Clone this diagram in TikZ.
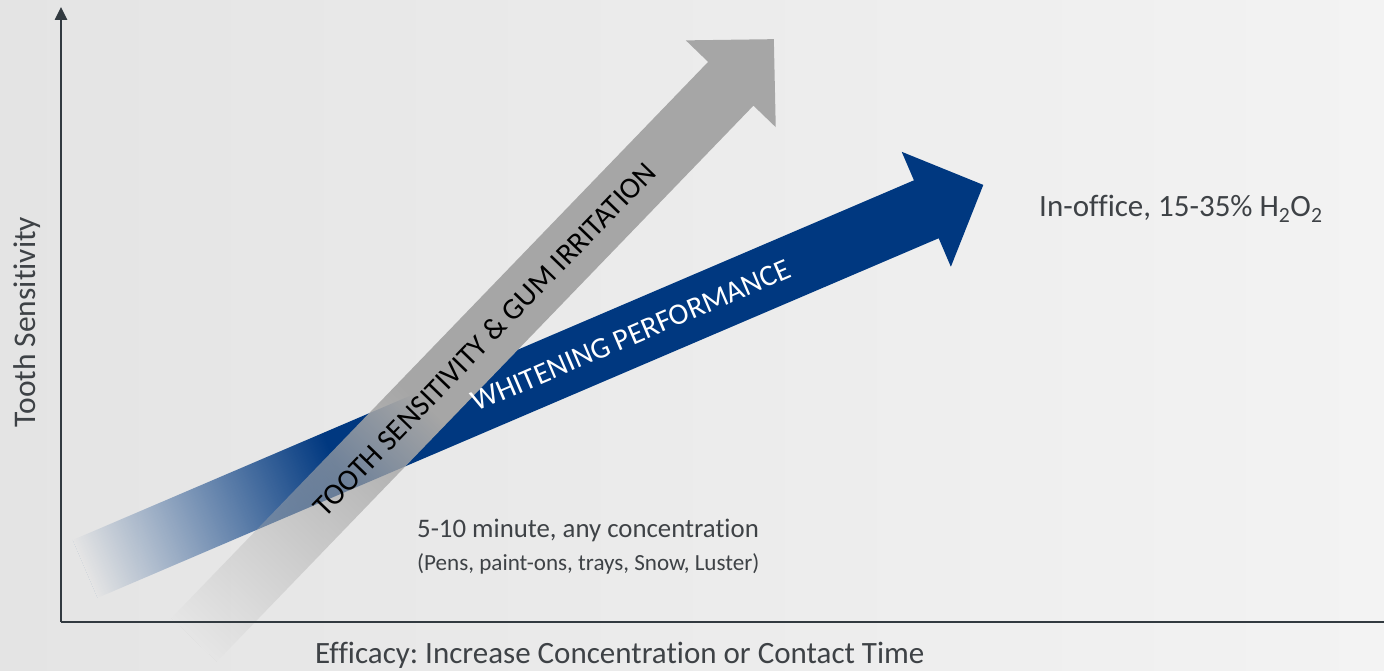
\documentclass[tikz,border=0pt]{standalone}
\usepackage{fontspec}
\setmainfont{Carlito}[Ligatures=NoCommon]
\usetikzlibrary{arrows.meta,fadings,positioning}

\definecolor{bgleft}{RGB}{228,228,228}
\definecolor{bgright}{RGB}{243,243,243}
\definecolor{axisgray}{RGB}{50,58,64}
\definecolor{textgray}{RGB}{62,66,70}
\definecolor{perfblue}{RGB}{0,56,128}
\definecolor{irrgray}{RGB}{166,166,166}

% fadings for the arrow tails, drawn in the arrows' own coordinates
\begin{tikzfadingfrompicture}[name=bluetailfade]
  \fill[transparent!100] (-1000pt,-100pt) rectangle (0pt,100pt);
  \shade[left color=transparent!100, right color=transparent!0] (0pt,-100pt) rectangle (273pt,100pt);
  \fill[transparent!0] (272pt,-100pt) rectangle (1000pt,100pt);
\end{tikzfadingfrompicture}
\begin{tikzfadingfrompicture}[name=graytailfade]
  \fill[transparent!100] (-1000pt,-100pt) rectangle (0pt,100pt);
  \shade[left color=transparent!100, right color=transparent!0] (0pt,-100pt) rectangle (330pt,100pt);
  \fill[transparent!0] (329pt,-100pt) rectangle (1000pt,100pt);
\end{tikzfadingfrompicture}

\tikzset{
  axisline/.style={draw=axisgray, line width=2.5pt},
  axislabel/.style={text=textgray, inner sep=0pt},
  caption/.style={text=textgray, inner sep=0pt, anchor=base west},
  arrowlabel/.style={inner sep=0pt, sloped, font=\fontsize{30}{36}\selectfont}
}

\begin{document}
\frenchspacing
\begin{tikzpicture}[x=1pt,y=1pt]
\useasboundingbox (0,0) rectangle (1384,670);
\clip (0,0) rectangle (1384,670);
% background
\shade[left color=bgleft, right color=bgright] (0,0) rectangle (1384,670);

% axes
\coordinate (origin) at (61,48);
\coordinate (ytop) at (61,663);
\coordinate (xend) at (1384,48);

% arrow ends
\coordinate (bluetail) at (85,101);
\coordinate (bluetip) at (983,485);
\coordinate (graytail) at (194,30);
\coordinate (graytip) at (774,631);

% whitening arrow
\begin{scope}[transform canvas={shift={(85pt,101pt)},rotate=23.15}]
  \fill[perfblue, path fading=bluetailfade, fit fading=false]
    (0,-31.5) -- (915,-31.5) -- (915,-62.5) -- (977,0) -- (915,62.5) -- (915,31.5) -- (0,31.5) -- cycle;
\end{scope}

% sensitivity arrow
\begin{scope}[transform canvas={shift={(194pt,30pt)},rotate=46.02}]
  \fill[irrgray, path fading=graytailfade, fit fading=false]
    (0,-31.5) -- (773,-31.5) -- (773,-62.5) -- (835,0) -- (773,62.5) -- (773,31.5) -- (0,31.5) -- cycle;
\end{scope}

% arrow labels
\path (bluetail) -- (bluetip)
  node[arrowlabel, pos=.608, text=white] (perflabel) {WHITENING PERFORMANCE};
\path (graytail) -- (graytip)
  node[arrowlabel, pos=.5, text=black] (irrlabel) {TOOTH SENSITIVITY \& GUM IRRITATION};

% axes on top
\draw[axisline] (origin) -- (xend);
\draw[axisline, -{Triangle[width=12pt,length=13pt]}] (origin) -- (ytop);

% texts
\node[axislabel, rotate=90, font=\fontsize{31.5}{38}\selectfont] (ylabel) at (27,348) {Tooth Sensitivity};
\node[caption, font=\fontsize{31}{37}\selectfont] (xlabel) at (315,7) {Efficacy: Increase Concentration or Contact Time};
\node[caption, font=\fontsize{31}{37}\selectfont] (office) at (1039,453) {In-office, 15-35\% H\textsubscript{2}O\textsubscript{2}};
\node[caption, font=\fontsize{26.8}{32}\selectfont] (short) at (417,133) {5-10 minute, any concentration};
\node[caption, font=\fontsize{23.1}{28}\selectfont] (shortsub) at ([yshift=-33pt]short.base west) {(Pens, paint-ons, trays, Snow, Luster)};
\end{tikzpicture}
\end{document}
